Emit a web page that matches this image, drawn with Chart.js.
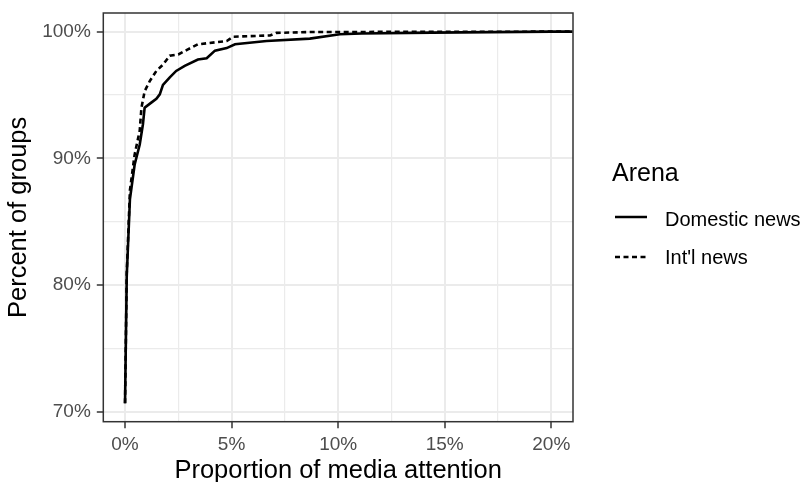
<!DOCTYPE html>
<html>
<head>
<meta charset="utf-8">
<script src="https://cdn.jsdelivr.net/npm/chart.js@4"></script>
<style>
  html, body { margin: 0; padding: 0; background: #fff; }
  #wrap { position: relative; width: 803px; height: 482px; font-family: "Liberation Sans", Arial, sans-serif; }
  canvas { position: absolute; left: 0; top: 0; }
  .lg { position: absolute; line-height: 1; white-space: nowrap; }
  .lg-title { left: 612px; top: 160px; font-size: 25px; color: #000; }
  .lg-item { left: 665px; font-size: 20px; color: #000; }
  .lg-key { position: absolute; left: 615px; }
</style>
</head>
<body>
<div id="wrap">
  <canvas id="ecdfChart" width="803" height="482"></canvas>
  <div class="lg lg-title">Arena</div>
  <svg class="lg-key" style="top:212px" width="34" height="10"><line x1="0" y1="5" x2="32" y2="5" stroke="#000" stroke-width="2.5"/></svg>
  <div class="lg lg-item" style="top:208.5px">Domestic news</div>
  <svg class="lg-key" style="top:252px" width="34" height="10"><line x1="0" y1="5" x2="32" y2="5" stroke="#000" stroke-width="2.5" stroke-dasharray="5 3.5"/></svg>
  <div class="lg lg-item" style="top:247px">Int'l news</div>
</div>
<script>
  // ECDF (x: % of media attention, y: % of groups)
  const domesticX = [0, 0.08, 0.23, 0.45, 0.69, 0.84, 0.92, 1.23, 1.47, 1.63, 1.78, 2.1, 2.4, 2.8, 3.42, 3.83, 4.22, 4.77, 5.16, 6.64, 8.67, 10.08, 11.1, 14.4, 20, 21];
  const domesticY = [70.7, 80.7, 86.8, 89.5, 91.1, 92.7, 94.0, 94.4, 94.7, 95.05, 95.8, 96.4, 96.9, 97.3, 97.8, 97.9, 98.5, 98.7, 99.0, 99.26, 99.45, 99.79, 99.85, 99.92, 100, 100];

  const intlX = [0, 0.08, 0.23, 0.45, 0.69, 0.77, 0.92, 1.16, 1.47, 1.78, 2.1, 2.5, 2.95, 3.42, 4.77, 5.08, 6.8, 7.1, 8.67, 20, 21];
  const intlY = [70.7, 81.0, 87.5, 90.3, 92.2, 94.0, 95.3, 96.1, 96.9, 97.4, 98.1, 98.2, 98.6, 99.0, 99.26, 99.6, 99.7, 99.9, 99.97, 100, 100];

  const xBreaks = [0, 2.5, 5, 7.5, 10, 12.5, 15, 17.5, 20];
  const xLabelled = [0, 5, 10, 15, 20];
  const yBreaks = [70, 75, 80, 85, 90, 95, 100];
  const yLabelled = [70, 80, 90, 100];

  function toPoints(xs, ys) { return xs.map((x, i) => ({ x: x, y: ys[i] })); }

  const GRID = "#ebebeb";
  const INK = "#333333";
  const TICK_TXT = "#4d4d4d";

  const panelBorder = {
    id: "panelBorder",
    afterDraw(chart) {
      const { ctx, chartArea: a } = chart;
      ctx.save();
      ctx.strokeStyle = INK;
      ctx.lineWidth = 1.5;
      ctx.strokeRect(a.left, a.top, a.right - a.left, a.bottom - a.top);
      ctx.restore();
    }
  };

  new Chart(document.getElementById("ecdfChart"), {
    type: "line",
    data: {
      datasets: [
        {
          label: "Domestic news",
          data: toPoints(domesticX, domesticY),
          borderColor: "#000",
          borderWidth: 2.6,
          pointRadius: 0,
          tension: 0,
          fill: false
        },
        {
          label: "Int'l news",
          data: toPoints(intlX, intlY),
          borderColor: "#000",
          borderWidth: 2.6,
          borderDash: [5, 3.5],
          pointRadius: 0,
          tension: 0,
          fill: false
        }
      ]
    },
    options: {
      responsive: false,
      animation: false,
      devicePixelRatio: 1,
      layout: { padding: { top: 13, right: 230, left: 0, bottom: 0 } },
      plugins: { legend: { display: false }, tooltip: { enabled: false } },
      scales: {
        x: {
          type: "linear",
          min: -1.02,
          max: 21.02,
          afterBuildTicks: (s) => { s.ticks = xBreaks.map(v => ({ value: v })); },
          afterFit: (s) => { s.height = 60.3; s.paddingLeft = 0; s.paddingRight = 0; },
          border: { display: false },
          grid: {
            color: GRID,
            lineWidth: (c) => xLabelled.includes(c.tick.value) ? 2 : 1.2,
            tickColor: (c) => xLabelled.includes(c.tick.value) ? INK : "rgba(0,0,0,0)",
            tickLength: 6.5,
            tickWidth: 1.5
          },
          ticks: {
            autoSkip: false,
            maxRotation: 0,
            padding: 5,
            color: TICK_TXT,
            font: { family: "Liberation Sans", size: 19 },
            callback: (v) => xLabelled.includes(v) ? v + "%" : ""
          },
          title: {
            display: true,
            text: "Proportion of media attention",
            color: "#000",
            font: { family: "Liberation Sans", size: 25.5, lineHeight: 1 },
            padding: { top: 0, bottom: -1.5 }
          }
        },
        y: {
          type: "linear",
          min: 69.24,
          max: 101.47,
          afterBuildTicks: (s) => { s.ticks = yBreaks.map(v => ({ value: v })); },
          afterFit: (s) => { s.width = 103.3; s.paddingTop = 0; s.paddingBottom = 0; },
          border: { display: false },
          grid: {
            color: GRID,
            lineWidth: (c) => yLabelled.includes(c.tick.value) ? 2 : 1.2,
            tickColor: (c) => yLabelled.includes(c.tick.value) ? INK : "rgba(0,0,0,0)",
            tickLength: 6.5,
            tickWidth: 1.5
          },
          ticks: {
            autoSkip: false,
            padding: 6,
            color: TICK_TXT,
            font: { family: "Liberation Sans", size: 19 },
            callback: (v) => yLabelled.includes(v) ? v + "%" : ""
          },
          title: {
            display: true,
            text: "Percent of groups",
            color: "#000",
            font: { family: "Liberation Sans", size: 25.5, lineHeight: 1 },
            padding: { top: 6.5, bottom: 0 }
          }
        }
      }
    },
    plugins: [panelBorder]
  });
</script>
</body>
</html>
